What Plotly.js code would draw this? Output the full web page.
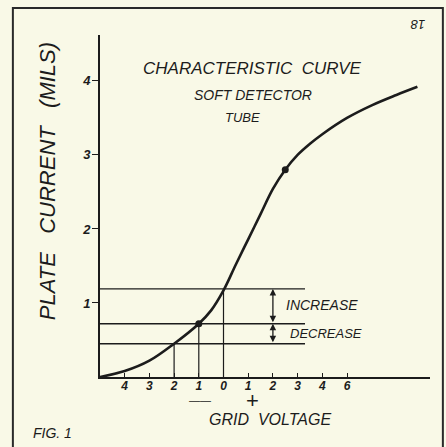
<!DOCTYPE html>
<html>
<head>
<meta charset="utf-8">
<script src="https://cdn.plot.ly/plotly-3.0.1.min.js"></script>
<style>html,body{margin:0;padding:0;background:#f9f9e7;}#chart{width:446px;height:447px;}</style>
</head>
<body>
<div id="chart"></div>
<script>
// Characteristic curve (grid voltage vs plate current)
var curveX = [-5, -4, -3, -2, -1, -0.5, 0, 0.5, 1, 1.5, 2, 2.5, 3, 3.5, 4, 5, 6, 7, 7.85];
var curveY = [0, 0.08, 0.22, 0.45, 0.72, 0.9, 1.17, 1.52, 1.86, 2.2, 2.54, 2.8, 3.0, 3.15, 3.28, 3.5, 3.67, 3.81, 3.92];
var dotX = [-1, 2.5];
var dotY = [0.72, 2.8];
var levelY = [1.19, 0.72, 0.45];
var levelXStart = -5, levelXEnd = 3.3;
var dropX = [0, -1, -2];
var dropY = [1.19, 0.72, 0.45];
var xTickVals = [-4, -3, -2, -1, 0, 1, 2, 3, 4, 5];
var xTickText = ["4", "3", "2", "1", "0", "1", "2", "3", "4", "6"];
var yTickVals = [1, 2, 3, 4];
var yTickText = ["1", "2", "3", "4"];
var arrowX = 2;

var ink = '#1c1c1c';
var fam = 'Liberation Sans, Arial, sans-serif';
function f(size, w){ return {family: fam, color: ink, size: size, style: 'italic', weight: w || 'normal'}; }

var traces = [];
levelY.forEach(function(v){
  traces.push({x: [levelXStart, levelXEnd], y: [v, v], mode: 'lines', line: {color: ink, width: 1.4}, hoverinfo: 'skip', showlegend: false});
});
dropX.forEach(function(v, i){
  traces.push({x: [v, v], y: [0, dropY[i]], mode: 'lines', line: {color: ink, width: 1.2}, hoverinfo: 'skip', showlegend: false});
});
traces.push({x: curveX, y: curveY, mode: 'lines', line: {color: ink, width: 2.6, shape: 'spline', smoothing: 1}, showlegend: false});
traces.push({x: dotX, y: dotY, mode: 'markers', marker: {color: ink, size: 7}, showlegend: false});

function note(text, x, y, size, extra){
  var a = {text: text, xref: 'paper', yref: 'paper', x: x, y: y, xanchor: 'center', yanchor: 'middle', showarrow: false, font: f(size)};
  for (var k in (extra || {})) a[k] = extra[k];
  return a;
}

var annotations = [
  note('PLATE   CURRENT   (MILS)', -0.158, 0.572, 22, {textangle: -90}),
  note('CHARACTERISTIC  CURVE', 0.461, 0.9035, 17),
  note('SOFT DETECTOR', 0.464, 0.8246, 14),
  note('TUBE', 0.433, 0.76, 13),
  {text: 'INCREASE', x: 2.43, y: 0.97, xanchor: 'left', yanchor: 'middle', showarrow: false, font: f(14)},
  {text: 'DECREASE', x: 2.63, y: 0.59, xanchor: 'left', yanchor: 'middle', showarrow: false, font: f(13)},
  {x: arrowX, y: levelY[0], ax: arrowX, ay: levelY[1], xref: 'x', yref: 'y', axref: 'x', ayref: 'y', text: '', showarrow: true, arrowhead: 2, arrowside: 'end+start', arrowsize: 1, arrowwidth: 1.3, arrowcolor: ink},
  {x: arrowX, y: levelY[1], ax: arrowX, ay: levelY[2], xref: 'x', yref: 'y', axref: 'x', ayref: 'y', text: '', showarrow: true, arrowhead: 2, arrowside: 'end+start', arrowsize: 1, arrowwidth: 1.3, arrowcolor: ink},
  {text: '——', x: -0.97, xref: 'x', yref: 'paper', y: -0.066, yanchor: 'middle', showarrow: false, font: {family: fam, color: ink, size: 11}},
  {text: '+', x: 1.17, xref: 'x', yref: 'paper', y: -0.07, yanchor: 'middle', showarrow: false, font: {family: fam, color: ink, size: 22}},
  note('GRID  VOLTAGE', 0.515, -0.1257, 16),
  note('FIG. 1', -0.21, -0.164, 14, {xanchor: 'left'}),
  note('18', 0.964, 1.029, 13, {textangle: 180})
];

var layout = {
  width: 446, height: 447,
  margin: {l: 100, r: 16, t: 35, b: 70},
  paper_bgcolor: '#f9f9e7', plot_bgcolor: 'rgba(0,0,0,0)',
  showlegend: false,
  xaxis: {range: [-5, 8.36], showgrid: false, zeroline: false, showline: true, linecolor: ink, linewidth: 2,
          tickvals: xTickVals, ticktext: xTickText, ticks: 'inside', ticklen: 4, tickcolor: ink, tickwidth: 1,
          ticklabelstandoff: -3, tickangle: 0, tickfont: f(12, 'bold'), fixedrange: true},
  yaxis: {range: [0, 4.62], showgrid: false, zeroline: false, showline: true, linecolor: ink, linewidth: 2,
          tickvals: yTickVals, ticktext: yTickText, ticks: 'outside', ticklen: 6, tickcolor: ink, tickwidth: 1,
          ticklabelstandoff: -1, tickangle: 0, tickfont: f(13, 'bold'), fixedrange: true},
  shapes: [
    {type: 'rect', xref: 'paper', yref: 'paper', x0: -0.264, x1: 1.039, y0: -0.22, y1: 1.079, line: {color: '#2a2a2a', width: 2}}
  ],
  annotations: annotations
};
Plotly.newPlot('chart', traces, layout, {displayModeBar: false, staticPlot: true});
</script>
</body>
</html>
